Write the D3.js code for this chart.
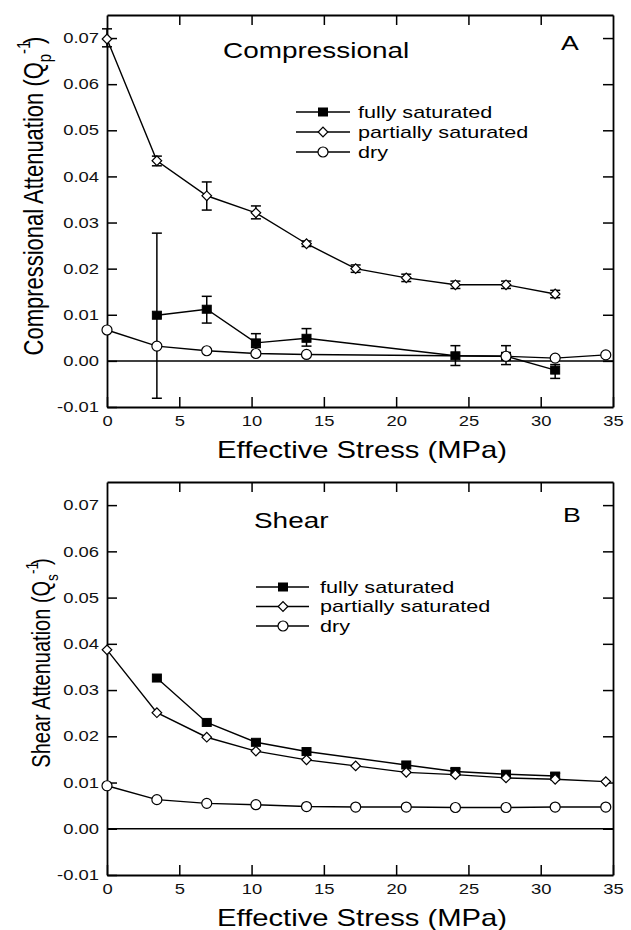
<!DOCTYPE html>
<html>
<head>
<meta charset="utf-8">
<script src="https://cdnjs.cloudflare.com/ajax/libs/d3/7.8.5/d3.min.js"></script>
<style>
  body { margin: 0; background: #fff; }
  svg { display: block; font-family: "Liberation Sans", Arial, Helvetica, sans-serif; }
</style>
</head>
<body>
<div id="chart"></div>
<script>
// effective stress steps (MPa), 500 psi increments
const STRESS = [0, 3.45, 6.9, 10.3, 13.8, 17.2, 20.7, 24.1, 27.6, 31.0, 34.5];
const X_TICKS = [0, 5, 10, 15, 20, 25, 30, 35];
const Y_TICKS = [-0.01, 0, 0.01, 0.02, 0.03, 0.04, 0.05, 0.06, 0.07];

// panel A, compressional attenuation Qp^-1
const compFull      = [null, 0.0099, 0.0112, 0.0039, 0.0049, null, null, 0.0011, 0.0010, -0.0020, null];
const compFullLo    = [null, -0.0081, 0.0082, 0.0029, 0.0032, null, null, -0.0010, -0.0008, -0.0038, null];
const compFullHi    = [null, 0.0277, 0.0140, 0.0059, 0.0070, null, null, 0.0033, 0.0033, -0.0008, null];
const compPartial   = [0.0698, 0.0434, 0.0358, 0.0321, 0.0254, 0.0200, 0.0180, 0.0165, 0.0165, 0.0145, null];
const compPartialLo = [0.0681, 0.0423, 0.0327, 0.0308, 0.0248, 0.0192, 0.0172, 0.0157, 0.0157, 0.0137, null];
const compPartialHi = [0.0720, 0.0444, 0.0388, 0.0336, 0.0260, 0.0208, 0.0188, 0.0173, 0.0173, 0.0153, null];
const compDry       = [0.0067, 0.0032, 0.0022, 0.0016, 0.0014, null, null, null, 0.0010, 0.0006, 0.0013];

// panel B, shear attenuation Qs^-1
const shearFull    = [null, 0.0326, 0.0230, 0.0187, 0.0167, null, 0.0138, 0.0124, 0.0118, 0.0114, null];
const shearFullLo  = [null, null, null, null, null, null, null, 0.0118, 0.0112, 0.0108, null];
const shearFullHi  = [null, null, null, null, null, null, null, 0.0130, 0.0124, 0.0120, null];
const shearPartial = [0.0387, 0.0251, 0.0198, 0.0168, 0.0149, 0.0136, 0.0122, 0.0117, 0.0110, 0.0107, 0.0102];
const shearDry     = [0.0093, 0.0063, 0.0055, 0.0052, 0.0048, 0.0047, 0.0047, 0.0046, 0.0046, 0.0047, 0.0047];

const SERIES_LABELS = ["fully saturated", "partially saturated", "dry"];
const MARKERS = ["square", "diamond", "circle"];

const WIDTH = 631;
const HEIGHT = 930;
const LEFT = 107;
const RIGHT = 613;
const SX = 1.27; // the scanned figure is wider than tall, so glyphs get a horizontal stretch

const svg = d3.select("#chart")
  .append("svg")
  .attr("width", WIDTH)
  .attr("height", HEIGHT)
  .attr("viewBox", `0 0 ${WIDTH} ${HEIGHT}`);

svg.append("rect").attr("width", WIDTH).attr("height", HEIGHT).attr("fill", "#fff");

function stretchedText(parent, x, y, str, size, anchor = "start") {
  return parent.append("text")
    .attr("transform", `translate(${x},${y}) scale(${SX},1)`)
    .attr("font-size", size)
    .attr("text-anchor", anchor)
    .attr("fill", "#000")
    .text(str);
}

function drawMarker(parent, type, cx, cy) {
  if (type === "square") {
    parent.append("rect")
      .attr("x", cx - 4.5).attr("y", cy - 4)
      .attr("width", 9).attr("height", 8)
      .attr("fill", "#000").attr("stroke", "#000").attr("stroke-width", 1);
  } else if (type === "diamond") {
    parent.append("path")
      .attr("d", d3.symbol(d3.symbolSquare, 46)())
      .attr("transform", `translate(${cx},${cy}) rotate(45)`)
      .attr("fill", "#fff").attr("stroke", "#000").attr("stroke-width", 1.2);
  } else {
    parent.append("circle")
      .attr("cx", cx).attr("cy", cy).attr("r", 5)
      .attr("fill", "#fff").attr("stroke", "#000").attr("stroke-width", 1.2);
  }
}

function toPoints(values, lo, hi) {
  return STRESS.map((s, i) => ({
    s,
    v: values[i],
    lo: lo ? lo[i] : null,
    hi: hi ? hi[i] : null,
  })).filter((d) => d.v != null);
}

function yLabel(parent, x, y, main, sub, size) {
  const t = parent.append("text")
    .attr("transform", `translate(${x},${y}) rotate(-90) scale(1,${SX})`)
    .attr("font-size", size)
    .attr("text-anchor", "middle")
    .attr("fill", "#000");
  t.append("tspan").text(main + " (Q");
  t.append("tspan").attr("font-size", size * 0.68).attr("dy", size * 0.3).text(sub);
  t.append("tspan").attr("font-size", size * 0.68).attr("dy", -size * 0.78).text("-1");
  t.append("tspan").attr("dx", -size * 0.15).attr("dy", size * 0.48).text(")");
}

function drawPanel(cfg) {
  const x = d3.scaleLinear().domain([0, 35]).range([LEFT, RIGHT]);
  const y = d3.scaleLinear().domain([-0.01, 0.075]).range([cfg.bottom, cfg.top]);
  const g = svg.append("g");

  // bottom and left axes carry the labels, ticks point inward on all four sides
  const xAxis = g.append("g")
    .attr("transform", `translate(0,${cfg.bottom})`)
    .call(d3.axisBottom(x).tickValues(X_TICKS).tickSizeInner(-10).tickSizeOuter(0).tickPadding(9));

  const yAxis = g.append("g")
    .attr("transform", `translate(${LEFT},0)`)
    .call(d3.axisLeft(y).tickValues(Y_TICKS).tickSizeInner(-10).tickSizeOuter(0).tickPadding(8)
      .tickFormat((v) => v.toFixed(2)));

  const topAxis = g.append("g")
    .attr("transform", `translate(0,${cfg.top})`)
    .call(d3.axisTop(x).tickValues(X_TICKS.slice(1, -1)).tickSizeInner(-10).tickSizeOuter(0)
      .tickFormat(() => ""));

  const rightAxis = g.append("g")
    .attr("transform", `translate(${RIGHT},0)`)
    .call(d3.axisRight(y).tickValues(Y_TICKS.slice(1)).tickSizeInner(-10).tickSizeOuter(0)
      .tickFormat(() => ""));

  [xAxis, yAxis, topAxis, rightAxis].forEach((a) => {
    a.attr("font-family", null).attr("font-size", 14.5);
    a.select(".domain").attr("stroke", "#000").attr("stroke-width", 1.8);
    a.selectAll(".tick line").attr("stroke", "#000").attr("stroke-width", 1.5);
  });
  topAxis.selectAll(".tick text").remove();
  rightAxis.selectAll(".tick text").remove();

  xAxis.selectAll(".tick text").attr("fill", "#111").attr("transform", `scale(${SX},1)`);
  yAxis.selectAll(".tick text")
    .attr("fill", "#111")
    .attr("x", -8 / SX)
    .attr("transform", `scale(${SX},1)`);

  // zero reference line
  g.append("line")
    .attr("x1", x(0)).attr("x2", x(35))
    .attr("y1", y(0)).attr("y2", y(0))
    .attr("stroke", "#000").attr("stroke-width", 1.5);

  const line = d3.line().x((d) => x(d.s)).y((d) => y(d.v));
  const seriesPoints = cfg.series.map((s) => toPoints(s.values, s.lo, s.hi));

  seriesPoints.forEach((pts) => {
    g.append("path")
      .datum(pts)
      .attr("fill", "none")
      .attr("stroke", "#000")
      .attr("stroke-width", 1.4)
      .attr("d", line);
  });

  // error bars
  seriesPoints.forEach((pts) => {
    pts.filter((d) => d.lo != null && d.hi != null).forEach((d) => {
      const cx = x(d.s);
      g.append("line")
        .attr("x1", cx).attr("x2", cx).attr("y1", y(d.lo)).attr("y2", y(d.hi))
        .attr("stroke", "#000").attr("stroke-width", 1.5);
      [d.lo, d.hi].forEach((v) => {
        g.append("line")
          .attr("x1", cx - 5).attr("x2", cx + 5).attr("y1", y(v)).attr("y2", y(v))
          .attr("stroke", "#000").attr("stroke-width", 1.5);
      });
    });
  });

  seriesPoints.forEach((pts, i) => {
    pts.forEach((d) => drawMarker(g, MARKERS[i], x(d.s), y(d.v)));
  });

  // legend
  const lg = cfg.legend;
  SERIES_LABELS.forEach((label, i) => {
    const ly = lg.y0 + i * lg.dy;
    g.append("line")
      .attr("x1", lg.x1).attr("x2", lg.x2).attr("y1", ly).attr("y2", ly)
      .attr("stroke", "#000").attr("stroke-width", 1.4);
    drawMarker(g, MARKERS[i], lg.mx, ly);
    stretchedText(g, lg.tx, ly + 5.5, label, 17);
  });

  // titles and axis labels
  stretchedText(g, cfg.title.x, cfg.title.y, cfg.title.text, 22);
  stretchedText(g, cfg.letter.x, cfg.letter.y, cfg.letter.text, 21);
  stretchedText(g, (LEFT + RIGHT) / 2 + 2, cfg.bottom + 51, "Effective Stress (MPa)", 23, "middle");
  yLabel(g, cfg.yLabel.x, cfg.yLabel.y, cfg.yLabel.main, cfg.yLabel.sub, cfg.yLabel.size);
}

drawPanel({
  top: 15,
  bottom: 407,
  series: [
    { values: compFull, lo: compFullLo, hi: compFullHi },
    { values: compPartial, lo: compPartialLo, hi: compPartialHi },
    { values: compDry },
  ],
  legend: { x1: 296, x2: 350, mx: 323, tx: 358, y0: 112, dy: 20 },
  title: { x: 223, y: 58, text: "Compressional" },
  letter: { x: 561, y: 50, text: "A" },
  yLabel: { x: 43, y: 196, main: "Compressional Attenuation", sub: "p", size: 22 },
});

drawPanel({
  top: 482,
  bottom: 875,
  series: [
    { values: shearFull, lo: shearFullLo, hi: shearFullHi },
    { values: shearPartial },
    { values: shearDry },
  ],
  legend: { x1: 256, x2: 309, mx: 283, tx: 320, y0: 587, dy: 19.5 },
  title: { x: 254, y: 528, text: "Shear" },
  letter: { x: 563, y: 522, text: "B" },
  yLabel: { x: 50, y: 663, main: "Shear Attenuation", sub: "s", size: 20 },
});
</script>
</body>
</html>
